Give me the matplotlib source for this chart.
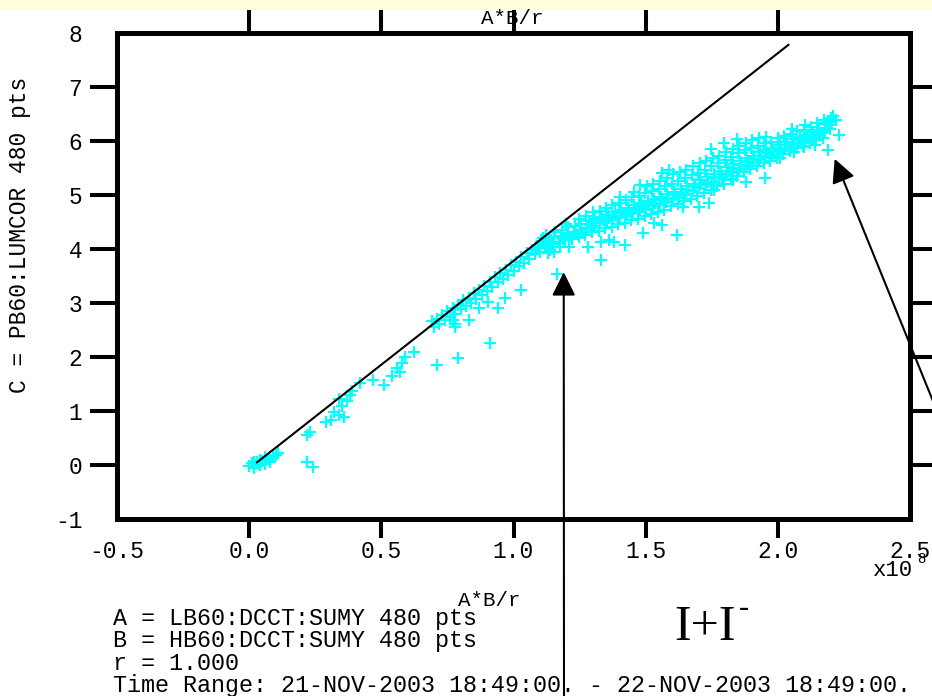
import matplotlib
matplotlib.use("Agg")
import matplotlib.pyplot as plt
from matplotlib.patches import Rectangle
from matplotlib.ticker import FormatStrFormatter

plt.rcParams['font.family'] = ['Liberation Mono', 'DejaVu Sans Mono']
plt.rcParams['axes.unicode_minus'] = False

W, H = 932, 696

# C vs A*B/r  (x in units of 1e8)
# low end and the branch that follows the line
ab_x = [0.00, 0.01, 0.02, 0.03, 0.04, 0.05, 0.06, 0.07, 0.08, 0.09, 0.10, 0.04, 0.02, 0.06, 0.11, 0.08,
        0.22, 0.24, 0.23, 0.22,
        0.29, 0.31, 0.32, 0.34, 0.35, 0.36, 0.34, 0.38, 0.39, 0.37, 0.42, 0.47, 0.51,
        0.54, 0.56, 0.58, 0.59, 0.57, 0.625, 0.69, 0.71, 0.79, 0.91, 1.03,
        0.70, 0.71, 0.72, 0.73, 0.74, 0.75, 0.76, 0.77, 0.78, 0.78, 0.79, 0.80, 0.81, 0.82,
        0.83, 0.84, 0.85, 0.86, 0.87, 0.88, 0.89, 0.90, 0.91, 0.92, 0.93, 0.94, 0.95, 0.96,
        0.97, 0.98, 0.99, 1.00, 1.01, 1.02, 1.03, 1.04, 1.05, 1.06, 1.07, 1.08, 1.09, 1.10,
        0.78, 0.77, 0.83, 0.87, 0.905, 0.94, 0.966,
        1.13, 1.155, 1.21, 1.28, 1.33, 1.38, 1.33, 1.163,
        1.36, 1.42, 1.49, 1.53, 1.56, 1.62, 1.64, 1.70, 1.74, 1.76, 1.79, 1.83, 1.88, 1.95,
        1.89, 1.97, 2.01, 2.06, 2.10, 2.14, 2.19, 2.23, 2.22, 2.20, 1.59, 1.56, 1.48]
c_y = [-0.02, 0.03, -0.05, 0.05, 0.00, 0.08, 0.02, 0.12, 0.10, 0.15, 0.18, 0.10, 0.06, 0.14, 0.22, 0.05,
       0.05, -0.04, 0.62, 0.56,
       0.80, 0.84, 0.98, 0.93, 1.10, 0.88, 1.22, 1.30, 1.37, 1.18, 1.52, 1.57, 1.48,
       1.65, 1.80, 1.88, 2.00, 1.72, 2.09, 2.66, 1.85, 1.98, 2.26, 3.24,
       2.55, 2.70, 2.62, 2.78, 2.68, 2.85, 2.75, 2.90, 2.62, 2.80, 2.97, 2.88, 3.05, 2.95,
       3.10, 3.00, 3.18, 3.08, 3.25, 3.15, 3.32, 3.22, 3.38, 3.30, 3.48, 3.38, 3.55, 3.45,
       3.62, 3.52, 3.70, 3.60, 3.76, 3.68, 3.85, 3.74, 3.92, 3.82, 3.98, 3.90, 4.05, 3.95,
       2.56, 2.69, 2.69, 2.91, 3.02, 2.91, 3.09,
       3.93, 3.94, 4.04, 4.04, 4.13, 4.13, 3.80, 3.54,
       4.17, 4.07, 4.30, 4.48, 4.44, 4.26, 4.78, 4.78, 4.85, 5.09, 5.33, 5.28, 5.24, 5.31,
       5.56, 5.70, 5.69, 5.80, 5.89, 5.93, 5.83, 6.11, 6.39, 6.43, 5.46, 5.40, 5.18]

# dense band above 1.1e8
band = [(1.098, 4.02), (1.104, 4.13), (1.112, 4.20), (1.118, 4.08),
        (1.127, 4.05), (1.133, 4.17), (1.122, 4.26), (1.139, 3.99), (1.131, 4.11),
        (1.146, 4.10), (1.153, 4.22), (1.158, 4.31), (1.149, 4.04),
        (1.171, 4.13), (1.178, 4.24), (1.183, 4.36), (1.176, 4.03), (1.188, 4.19),
        (1.196, 4.16), (1.202, 4.29), (1.207, 4.41), (1.199, 4.47), (1.211, 4.23),
        (1.222, 4.19), (1.228, 4.32), (1.233, 4.43), (1.238, 4.27),
        (1.246, 4.23), (1.252, 4.36), (1.257, 4.47), (1.249, 4.56), (1.261, 4.30),
        (1.271, 4.26), (1.279, 4.39), (1.284, 4.51), (1.276, 4.61), (1.289, 4.44),
        (1.297, 4.31), (1.303, 4.43), (1.308, 4.56), (1.301, 4.69), (1.312, 4.49),
        (1.322, 4.34), (1.327, 4.48), (1.334, 4.59), (1.329, 4.71), (1.338, 4.53),
        (1.346, 4.39), (1.353, 4.51), (1.357, 4.63), (1.349, 4.76), (1.362, 4.57),
        (1.371, 4.41), (1.377, 4.56), (1.383, 4.68), (1.374, 4.81), (1.387, 4.61),
        (1.396, 4.46), (1.402, 4.59), (1.407, 4.73), (1.399, 4.86), (1.404, 4.96), (1.411, 4.66),
        (1.421, 4.49), (1.428, 4.63), (1.433, 4.76), (1.426, 4.91), (1.437, 4.70),
        (1.446, 4.53), (1.452, 4.67), (1.457, 4.81), (1.449, 4.96), (1.454, 5.06), (1.461, 4.74),
        (1.471, 4.56), (1.478, 4.71), (1.483, 4.85), (1.476, 4.99), (1.487, 4.78),
        (1.496, 4.61), (1.503, 4.75), (1.507, 4.89), (1.499, 5.03), (1.504, 5.16), (1.511, 4.82),
        (1.521, 4.65), (1.527, 4.79), (1.532, 4.93), (1.524, 5.07), (1.529, 5.21), (1.536, 4.86),
        (1.546, 4.69), (1.553, 4.83), (1.557, 4.97), (1.549, 5.11), (1.554, 5.26), (1.561, 4.90),
        (1.571, 4.73), (1.578, 4.87), (1.582, 5.01), (1.574, 5.16), (1.579, 5.31), (1.586, 4.94),
        (1.596, 4.79), (1.603, 4.93), (1.607, 5.06), (1.598, 5.21), (1.604, 5.39), (1.611, 5.00),
        (1.621, 4.83), (1.627, 4.97), (1.632, 5.11), (1.624, 5.26), (1.629, 5.43), (1.636, 5.04),
        (1.646, 4.89), (1.652, 5.01), (1.657, 5.16), (1.649, 5.31), (1.654, 5.47), (1.661, 5.09),
        (1.671, 4.93), (1.678, 5.07), (1.683, 5.21), (1.674, 5.37), (1.679, 5.53), (1.686, 5.14),
        (1.696, 4.99), (1.703, 5.13), (1.707, 5.27), (1.699, 5.41), (1.704, 5.59), (1.711, 5.20),
        (1.721, 5.03), (1.727, 5.19), (1.732, 5.33), (1.724, 5.47), (1.729, 5.63), (1.736, 5.25),
        (1.746, 5.09), (1.752, 5.23), (1.757, 5.39), (1.749, 5.53), (1.754, 5.69), (1.748, 5.86), (1.761, 5.31),
        (1.771, 5.16), (1.778, 5.31), (1.783, 5.45), (1.774, 5.59), (1.779, 5.73), (1.786, 5.38),
        (1.796, 5.21), (1.803, 5.37), (1.807, 5.51), (1.799, 5.65), (1.804, 5.79), (1.798, 5.96), (1.811, 5.44),
        (1.821, 5.29), (1.827, 5.43), (1.832, 5.57), (1.824, 5.71), (1.829, 5.85), (1.836, 5.50),
        (1.846, 5.36), (1.852, 5.49), (1.857, 5.63), (1.849, 5.77), (1.854, 5.91), (1.847, 6.03), (1.861, 5.56),
        (1.871, 5.43), (1.878, 5.56), (1.883, 5.69), (1.874, 5.83), (1.879, 5.97), (1.886, 5.62),
        (1.896, 5.49), (1.903, 5.61), (1.907, 5.73), (1.899, 5.87), (1.904, 6.01), (1.911, 5.67),
        (1.921, 5.53), (1.927, 5.66), (1.932, 5.79), (1.924, 5.91), (1.929, 6.05), (1.936, 5.72),
        (1.946, 5.59), (1.952, 5.71), (1.957, 5.83), (1.949, 5.96), (1.954, 6.07), (1.961, 5.77),
        (1.971, 5.63), (1.978, 5.75), (1.983, 5.87), (1.974, 5.99), (1.986, 5.81),
        (1.996, 5.69), (2.003, 5.81), (2.007, 5.93), (1.999, 6.05), (2.011, 5.86),
        (2.021, 5.76), (2.027, 5.87), (2.032, 5.98), (2.024, 6.09), (2.036, 5.92),
        (2.046, 5.81), (2.052, 5.93), (2.057, 6.03), (2.049, 6.13), (2.054, 6.23), (2.061, 5.97),
        (2.071, 5.87), (2.078, 5.97), (2.083, 6.07), (2.074, 6.19), (2.086, 6.02),
        (2.096, 5.91), (2.103, 6.01), (2.107, 6.11), (2.099, 6.21), (2.104, 6.29), (2.111, 6.06),
        (2.121, 5.96), (2.127, 6.06), (2.132, 6.16), (2.124, 6.26), (2.136, 6.10),
        (2.146, 6.01), (2.152, 6.11), (2.157, 6.21), (2.149, 6.33), (2.161, 6.15),
        (2.171, 6.06), (2.178, 6.19), (2.183, 6.31), (2.174, 6.39), (2.186, 6.24),
        (2.196, 6.23), (2.203, 6.36), (2.208, 6.46), (2.199, 6.30)]
band_x = [p[0] for p in band]
band_y = [p[1] for p in band]

# reference line
line_x = [0.03, 2.04]
line_y = [0.05, 7.78]

x_ticks = [-0.5, 0.0, 0.5, 1.0, 1.5, 2.0, 2.5]
y_ticks = [-1, 0, 1, 2, 3, 4, 5, 6, 7, 8]

info_lines = ["A = LB60:DCCT:SUMY 480 pts",
              "B = HB60:DCCT:SUMY 480 pts",
              "r = 1.000",
              "Time Range: 21-NOV-2003 18:49:00. - 22-NOV-2003 18:49:00."]


def fpos(px, py):
    return px / W, 1 - py / H


fig = plt.figure(figsize=(W / 100, H / 100), dpi=100)
fig.patch.set_facecolor('white')
fig.patches.append(Rectangle((0, 1 - 10 / H), 1, 10 / H, transform=fig.transFigure,
                             facecolor='#ffffdc', edgecolor='none', zorder=0))

ax = fig.add_axes([117 / W, 1 - 519 / H, (910 - 117) / W, (519 - 33) / H])
ax.plot(ab_x + band_x, c_y + band_y, linestyle='None', marker='+', color='#00ffff',
        markersize=8, markeredgewidth=1.6)
ax.plot(line_x, line_y, color='black', linewidth=1.5)

ax.set_xlim(-0.5, 2.5)
ax.set_ylim(-1, 8)
ax.set_xticks(x_ticks)
ax.set_yticks(y_ticks)
ax.xaxis.set_major_formatter(FormatStrFormatter('%.1f'))

for s in ax.spines.values():
    s.set_linewidth(3.6)

ax.tick_params(axis='x', direction='out', length=13.7, width=2.9, pad=1.5, labelsize=16.5,
               top=True, bottom=True)
ax.tick_params(axis='y', direction='out', length=19.4, width=2.9, pad=5.5, labelsize=16.5,
               left=True, right=True)

xt = ax.xaxis.get_major_ticks()
for t in xt:
    t.tick2line.set_markersize(16.5)
for t in (xt[0], xt[-1]):
    t.tick1line.set_visible(False)
    t.tick2line.set_visible(False)
yt = ax.yaxis.get_major_ticks()
for t in yt:
    t.tick2line.set_markersize(20)
for t in (yt[0], yt[-1]):
    t.tick1line.set_visible(False)
    t.tick2line.set_visible(False)

# axis titles and offset
fig.text(*fpos(512, 18), "A*B/r", ha='center', va='center', fontsize=15)
fig.text(*fpos(521, 600), "A*B/r", ha='right', va='center', fontsize=15)
fig.text(*fpos(20, 235), "C = PB60:LUMCOR 480 pts", rotation=90, ha='center', va='center', fontsize=16.5)
fig.text(*fpos(893, 571), "x10", ha='center', va='center', fontsize=16)
fig.text(*fpos(921, 559), "8", ha='center', va='center', fontsize=10)

for i, s in enumerate(info_lines):
    fig.text(*fpos(113, 618 + i * 22.5), s, ha='left', va='center', fontsize=16.8)

fig.text(*fpos(674, 640), "I+I", ha='left', va='baseline', fontsize=36, family='Liberation Serif')
fig.text(*fpos(739, 609), "-", ha='left', va='center', fontsize=22, family='Liberation Serif')

arrow = dict(arrowstyle='-|>,head_length=1.0,head_width=0.5', mutation_scale=14.4,
             color='black', lw=1.5, shrinkA=0, shrinkB=0)
ax.annotate("", xy=(1.19, 3.57), xytext=(564, -10), textcoords='figure pixels',
            arrowprops=arrow, annotation_clip=False)
ax.annotate("", xy=(2.215, 5.67), xytext=(965, 216), textcoords='figure pixels',
            arrowprops=arrow, annotation_clip=False)

fig.savefig("out.png", dpi=100)
